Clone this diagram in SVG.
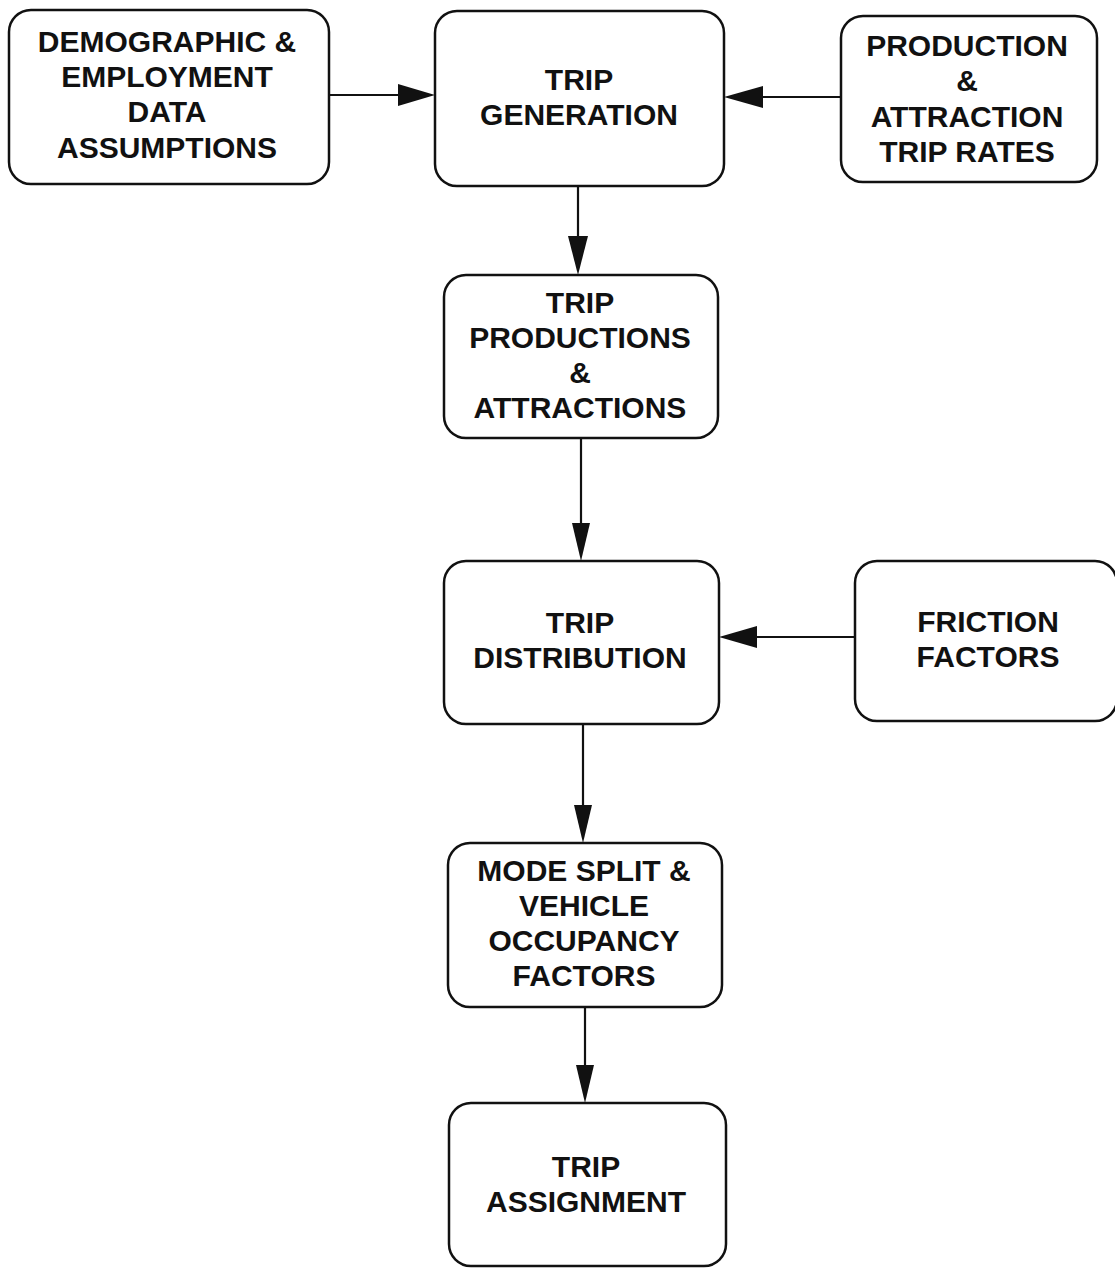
<svg xmlns="http://www.w3.org/2000/svg" width="1115" height="1268" viewBox="0 0 1115 1268">
<style>
.box{fill:#fff;stroke:#111;stroke-width:2.5}
.t{font-family:"Liberation Sans",Arial,sans-serif;font-weight:bold;font-size:30px;fill:#111;text-anchor:middle}
.c{stroke:#111;stroke-width:2.2;fill:none}
.h{fill:#111}
</style>
<rect width="1115" height="1268" fill="#fff"/>
<g id="connectors">
<line class="c" x1="329" y1="95" x2="400" y2="95"/><polygon class="h" points="435,95 398,84 398,106"/>
<line class="c" x1="841" y1="97" x2="760" y2="97"/><polygon class="h" points="724,97 763,86 763,108"/>
<line class="c" x1="578" y1="186" x2="578" y2="240"/><polygon class="h" points="578,275 568,236 588,236"/>
<line class="c" x1="581" y1="438" x2="581" y2="526"/><polygon class="h" points="581,561 572,523 590,523"/>
<line class="c" x1="855" y1="637" x2="754" y2="637"/><polygon class="h" points="719,637 757,626 757,648"/>
<line class="c" x1="583" y1="724" x2="583" y2="808"/><polygon class="h" points="583,843 574,805 592,805"/>
<line class="c" x1="585" y1="1007" x2="585" y2="1068"/><polygon class="h" points="585,1103 576,1065 594,1065"/>
</g>
<g id="n1"><rect class="box" x="9" y="10" width="320" height="174" rx="22"/>
<text class="t" x="167" y="52">DEMOGRAPHIC &amp;</text><text class="t" x="167" y="87">EMPLOYMENT</text><text class="t" x="167" y="122">DATA</text><text class="t" x="167" y="158">ASSUMPTIONS</text></g>
<g id="n2"><rect class="box" x="435" y="11" width="289" height="175" rx="22"/>
<text class="t" x="579" y="90">TRIP</text><text class="t" x="579" y="125">GENERATION</text></g>
<g id="n3"><rect class="box" x="841" y="16" width="256" height="166" rx="22"/>
<text class="t" x="967" y="56">PRODUCTION</text><text class="t" x="967" y="91">&amp;</text><text class="t" x="967" y="127">ATTRACTION</text><text class="t" x="967" y="162">TRIP RATES</text></g>
<g id="n4"><rect class="box" x="444" y="275" width="274" height="163" rx="22"/>
<text class="t" x="580" y="313">TRIP</text><text class="t" x="580" y="348">PRODUCTIONS</text><text class="t" x="580" y="383">&amp;</text><text class="t" x="580" y="418">ATTRACTIONS</text></g>
<g id="n5"><rect class="box" x="444" y="561" width="275" height="163" rx="22"/>
<text class="t" x="580" y="633">TRIP</text><text class="t" x="580" y="668">DISTRIBUTION</text></g>
<g id="n6"><rect class="box" x="855" y="561" width="262" height="160" rx="22"/>
<text class="t" x="988" y="632">FRICTION</text><text class="t" x="988" y="667">FACTORS</text></g>
<g id="n7"><rect class="box" x="448" y="843" width="274" height="164" rx="22"/>
<text class="t" x="584" y="881">MODE SPLIT &amp;</text><text class="t" x="584" y="916">VEHICLE</text><text class="t" x="584" y="951">OCCUPANCY</text><text class="t" x="584" y="986">FACTORS</text></g>
<g id="n8"><rect class="box" x="449" y="1103" width="277" height="163" rx="22"/>
<text class="t" x="586" y="1177">TRIP</text><text class="t" x="586" y="1212">ASSIGNMENT</text></g>
</svg>
